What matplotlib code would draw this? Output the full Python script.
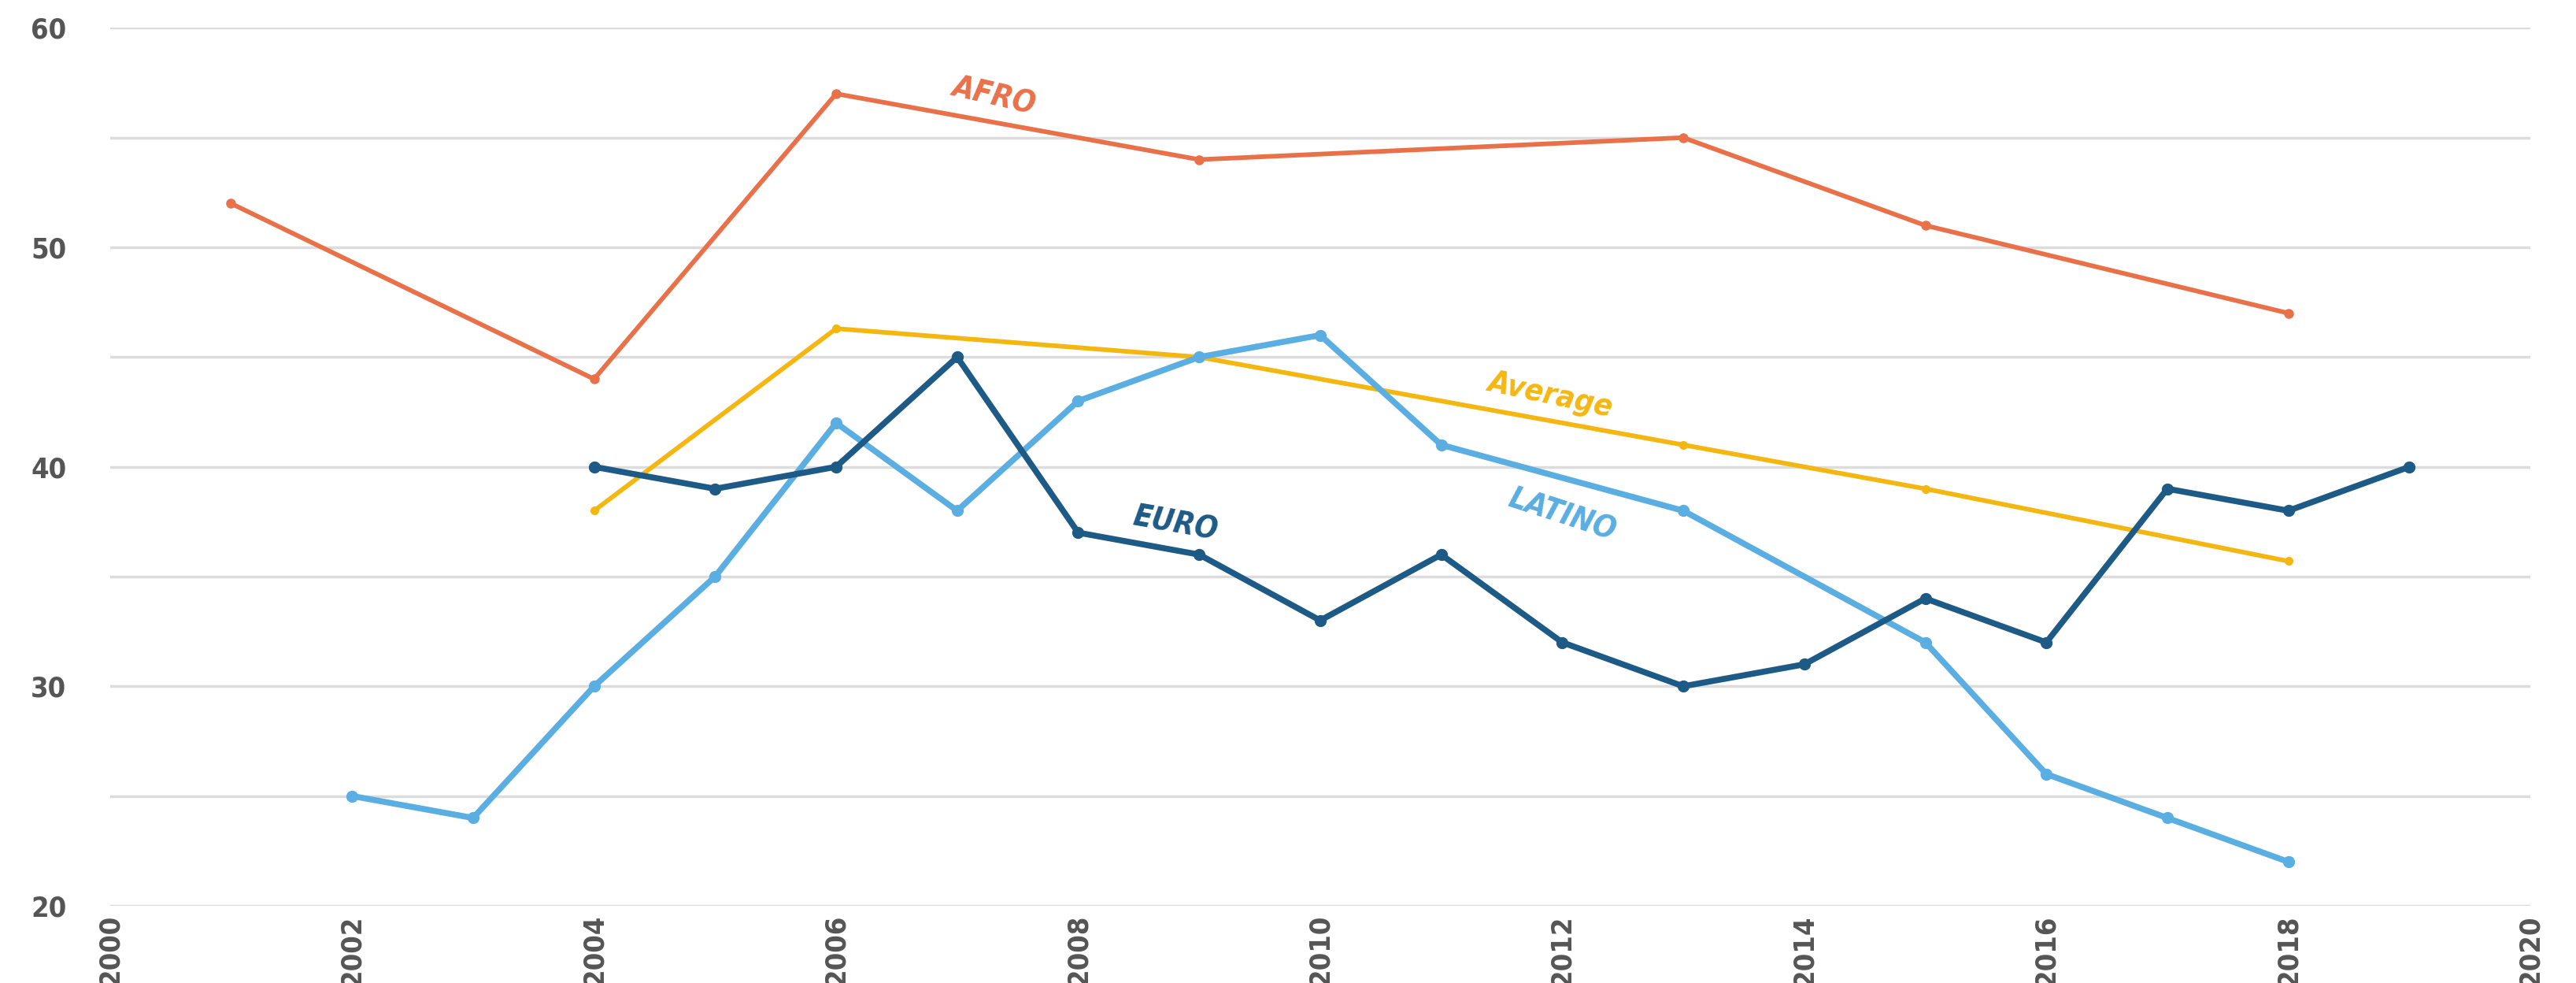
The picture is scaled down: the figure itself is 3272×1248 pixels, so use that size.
import numpy as np
import matplotlib
matplotlib.use("Agg")
import matplotlib.pyplot as plt

# values
afro_years = [2001, 2004, 2006, 2009, 2013, 2015, 2018]
afro_vals = [52, 44, 57, 54, 55, 51, 47]

avg_years = [2004, 2006, 2009, 2013, 2015, 2018]
avg_vals = [38, 46.3, 45, 41, 39, 35.7]

euro_years = [2004, 2005, 2006, 2007, 2008, 2009, 2010, 2011, 2012, 2013, 2014, 2015, 2016, 2017, 2018, 2019]
euro_vals = [40, 39, 40, 45, 37, 36, 33, 36, 32, 30, 31, 34, 32, 39, 38, 40]

latino_years = [2002, 2003, 2004, 2005, 2006, 2007, 2008, 2009, 2010, 2011, 2013, 2015, 2016, 2017, 2018]
latino_vals = [25, 24, 30, 35, 42, 38, 43, 45, 46, 41, 38, 32, 26, 24, 22]

x_ticks = list(range(2000, 2021, 2))
y_ticks = [20, 30, 40, 50, 60]

c_afro = "#E9714A"
c_avg = "#F4B712"
c_euro = "#1E5A86"
c_latino = "#5BAEE2"

plt.rcParams['font.family'] = ['DejaVu Sans']
plt.rcParams['font.stretch'] = 'condensed'

fig = plt.figure(figsize=(32.73, 12.48), dpi=100)
ax = fig.add_axes([0.0427, 0.0786, 0.9393, 0.893])

ax.plot(afro_years, afro_vals, color=c_afro, lw=4.2, marker="o", ms=8, zorder=3)
ax.plot(avg_years, avg_vals, color=c_avg, lw=4.2, marker="o", ms=7, zorder=3)
ax.plot(latino_years, latino_vals, color=c_latino, lw=5.5, marker="o", ms=10, zorder=4)
ax.plot(euro_years, euro_vals, color=c_euro, lw=5.5, marker="o", ms=10, zorder=5)

# inline series labels
lab = dict(fontsize=28, fontweight="bold", fontstyle="italic",
           ha="center", va="center")
ax.text(2007.3, 56.9, "AFRO", color=c_afro, rotation=-13, **lab)
ax.text(2011.9, 43.3, "Average", color=c_avg, rotation=-12, **lab)
ax.text(2008.8, 37.4, "EURO", color=c_euro, rotation=-10, **lab)
ax.text(2012.0, 37.8, "LATINO", color=c_latino, rotation=-18, **lab)

ax.set_xlim(2000, 2020)
ax.set_ylim(20, 60)
ax.set_xticks(x_ticks)
ax.set_xticklabels([str(t) for t in x_ticks], rotation=90)
ax.set_yticks(y_ticks)
ax.set_yticks(np.arange(25, 60, 10), minor=True)
ax.grid(True, which="both", axis="y", color="#dcdcdc", lw=2.5)
ax.tick_params(axis="both", which="both", length=0, labelsize=26, colors="#555555")
ax.tick_params(axis="y", pad=40)
ax.tick_params(axis="x", pad=8)
for t in ax.get_xticklabels() + ax.get_yticklabels():
    t.set_fontweight("semibold")
for s in ax.spines.values():
    s.set_visible(False)
ax.set_axisbelow(True)

fig.savefig("out.png", dpi=100, facecolor="white")
